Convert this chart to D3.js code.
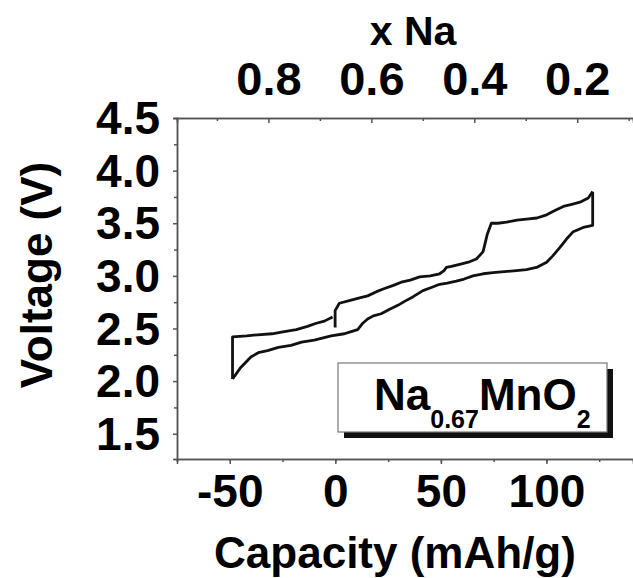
<!DOCTYPE html>
<html>
<head>
<meta charset="utf-8">
<script src="https://d3js.org/d3.v7.min.js"></script>
<style>
    body { margin: 0; background: #fff; }
    text { font-family: "Liberation Sans", Arial, sans-serif; font-weight: bold; fill: #000; }
    .axis path, .axis line { stroke: #555; stroke-width: 1.5; }
</style>
</head>
<body>
<svg id="chart" width="633" height="578"></svg>
<script>
// charge branch (upper), capacity in mAh/g and voltage in V
const chargeCap = [-0.1, -0.1, 1.9, 7.5, 11.5, 15.3, 19.5, 23.3, 27.5, 31.2, 35.5, 39.9, 45, 49.4, 51.5, 52.6, 55, 58.9, 63, 66.8, 70, 71.9, 73.9, 77, 81.1, 86, 90.6, 95.5, 100.1, 104, 108, 112, 115.9, 119.8, 121.9];
const chargeV   = [2.51, 2.67, 2.74, 2.77, 2.79, 2.81, 2.85, 2.88, 2.91, 2.94, 2.96, 2.99, 3.00, 3.02, 3.05, 3.08, 3.09, 3.11, 3.13, 3.16, 3.23, 3.39, 3.50, 3.50, 3.51, 3.53, 3.54, 3.55, 3.58, 3.62, 3.66, 3.68, 3.70, 3.74, 3.80];
// discharge branch (lower), from the top right end down to -50
const dischargeCap = [121.9, 121.9, 117.4, 112.7, 109.5, 106.4, 103, 100.1, 95.3, 90.5, 85.8, 80, 74.7, 70, 65.2, 61, 57.3, 53, 49.4, 45.5, 41.5, 36.7, 33, 29.6, 25.5, 21.7, 18, 15.3, 13, 10.6, 7.5, 4.3, -2, -10, -16, -21, -27, -32.1, -36.5, -40, -44.8, -48.7];
const dischargeV   = [3.80, 3.48, 3.46, 3.42, 3.35, 3.27, 3.19, 3.13, 3.08, 3.06, 3.05, 3.04, 3.03, 3.02, 3.00, 2.97, 2.95, 2.93, 2.92, 2.89, 2.86, 2.80, 2.76, 2.72, 2.68, 2.64, 2.62, 2.59, 2.55, 2.49, 2.47, 2.45, 2.43, 2.39, 2.37, 2.34, 2.32, 2.29, 2.27, 2.23, 2.13, 2.02];
// second charge, from -50 back to about 0
const recharge2Cap = [-48.7, -48.7, -42, -36.9, -30, -24.2, -18.5, -13.2, -9, -5.2, -1.3];
const recharge2V   = [2.02, 2.42, 2.43, 2.44, 2.45, 2.47, 2.49, 2.52, 2.55, 2.57, 2.61];

const capTicks = [-50, 0, 50, 100];
const voltTicks = [1.5, 2.0, 2.5, 3.0, 3.5, 4.0, 4.5];
const naTicks = [0.8, 0.6, 0.4, 0.2];

const svg = d3.select("#chart");

const x = d3.scaleLinear().domain([-75, 141]).range([177, 633]);
const y = d3.scaleLinear().domain([1.26, 4.5]).range([459, 118]);
// x Na = 0.67 - capacity / 243.8
const capPerNa = 243.8;
const xNa = d3.scaleLinear()
    .domain([0.67 + 75 / capPerNa, 0.67 - 141 / capPerNa])
    .range([177, 633]);

// bottom axis, minor ticks then major
svg.append("g").attr("class", "axis")
    .attr("transform", "translate(0,459)")
    .call(d3.axisBottom(x).tickValues(d3.range(-75, 141, 25)).tickSize(3).tickFormat(""));
const bx = svg.append("g").attr("class", "axis")
    .attr("transform", "translate(0,459)")
    .call(d3.axisBottom(x).tickValues(capTicks).tickSize(5).tickPadding(10).tickFormat(d => String(d)));
bx.selectAll("text").attr("font-size", 46).attr("dy", "0.71em");

// left axis
svg.append("g").attr("class", "axis")
    .attr("transform", "translate(177,0)")
    .call(d3.axisLeft(y).tickValues(d3.range(1.75, 4.5, 0.5)).tickSize(3).tickFormat(""));
const ly = svg.append("g").attr("class", "axis")
    .attr("transform", "translate(177,0)")
    .call(d3.axisLeft(y).tickValues(voltTicks).tickSize(4).tickPadding(13).tickFormat(d3.format(".1f")));
ly.selectAll("text").attr("font-size", 46).attr("dy", "0.34em");

// top axis (x Na), ticks pointing in
svg.append("g").attr("class", "axis")
    .attr("transform", "translate(0,118)")
    .call(d3.axisTop(xNa).tickValues([0.9, 0.7, 0.5, 0.3, 0.1]).tickSize(-3).tickFormat(""));
const tx = svg.append("g").attr("class", "axis")
    .attr("transform", "translate(0,118)")
    .call(d3.axisTop(xNa).tickValues(naTicks).tickSize(-5).tickPadding(23).tickFormat(d3.format(".1f")));
tx.selectAll("text").attr("font-size", 47);

// axis titles
svg.append("text").attr("x", 413).attr("y", 45).attr("text-anchor", "middle")
    .attr("font-size", 41).text("x Na");
svg.append("text").attr("x", 395).attr("y", 568).attr("text-anchor", "middle")
    .attr("font-size", 44).text("Capacity (mAh/g)");
svg.append("text").attr("transform", "translate(52,275) rotate(-90)")
    .attr("text-anchor", "middle").attr("font-size", 44).text("Voltage (V)");

// the curve
const line = d3.line().x(d => x(d[0])).y(d => y(d[1]));
const loops = [
    d3.zip(chargeCap, chargeV),
    d3.zip(dischargeCap, dischargeV),
    d3.zip(recharge2Cap, recharge2V)
];
svg.selectAll(".cv").data(loops).join("path")
    .attr("class", "cv")
    .attr("d", line)
    .attr("fill", "none")
    .attr("stroke", "#111")
    .attr("stroke-width", 2.8)
    .attr("stroke-linejoin", "round");

// legend box with shadow
svg.append("rect").attr("x", 344).attr("y", 369).attr("width", 269).attr("height", 69).attr("fill", "#111");
svg.append("rect").attr("x", 338).attr("y", 363).attr("width", 269).attr("height", 69)
    .attr("fill", "#fff").attr("stroke", "#777").attr("stroke-width", 1.2);
const lg = svg.append("text").attr("x", 374).attr("y", 410).attr("font-size", 44);
lg.append("tspan").text("Na");
lg.append("tspan").attr("font-size", 25).attr("dy", 18).text("0.67");
lg.append("tspan").attr("dy", -18).text("MnO");
lg.append("tspan").attr("font-size", 25).attr("dy", 18).text("2");
</script>
</body>
</html>
